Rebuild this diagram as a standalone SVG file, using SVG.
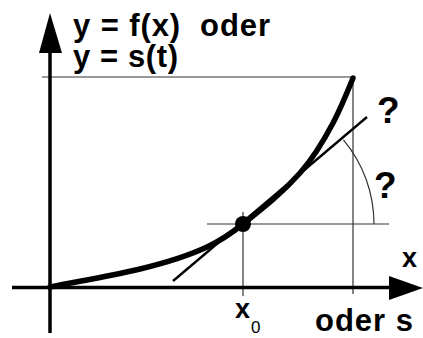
<svg xmlns="http://www.w3.org/2000/svg" width="423" height="338" viewBox="0 0 423 338">
<style>
.axis{stroke:#000;stroke-width:3.5;fill:none}
.thin{stroke:#333;stroke-width:1.2;fill:none}
.lbl{font-family:"Liberation Sans",Arial,sans-serif;font-weight:bold;fill:#000}
</style>
<rect width="423" height="338" fill="#fff"/>
<g id="guides">
<line class="thin" x1="42" y1="77" x2="353" y2="77"/>
<line class="thin" x1="353" y1="77" x2="353" y2="294"/>
<line class="thin" x1="243" y1="212" x2="243" y2="296"/>
<line class="thin" x1="207" y1="224" x2="389" y2="224"/>
<path class="thin" d="M374,224 A131,131 0 0 0 343.4,139.8"/>
</g>
<g id="axes">
<line class="axis" x1="12" y1="287.5" x2="392" y2="287.5"/>
<polygon points="389,276 423,288 389,300" fill="#000"/>
<line class="axis" x1="50" y1="333" x2="50" y2="50"/>
<polygon points="50,13 39,53 62,53" fill="#000"/>
</g>
<g id="connectors">
<line x1="173" y1="281" x2="367" y2="117" stroke="#000" stroke-width="2.3"/>
<path d="M50,287 C80,281 110,276.2 140,269 C162.3,263.6 184.7,257.5 207,247 C219,241.4 231,233.6 243,224 C262,208.8 281,194.3 300,173 C311,160.7 322,143.9 333,123 C339.7,110.3 346.3,94.7 353,78" fill="none" stroke="#000" stroke-width="5.5" stroke-linecap="round"/>
</g>
<g id="point">
<circle cx="243" cy="224" r="8" fill="#000"/>
</g>
<g id="labels">
<text class="lbl" x="73" y="36" font-size="31" xml:space="preserve" textLength="197" lengthAdjust="spacing">y = f(x)  oder</text>
<text class="lbl" x="73" y="67" font-size="31" textLength="105" lengthAdjust="spacing">y = s(t)</text>
<text class="lbl" x="377" y="123" font-size="37">?</text>
<text class="lbl" x="374" y="198" font-size="37">?</text>
<text class="lbl" x="402" y="267" font-size="27">x</text>
<text class="lbl" x="235" y="318" font-size="27">x</text>
<text x="251" y="333" font-size="17" font-family="Liberation Sans,Arial,sans-serif" fill="#000">0</text>
<text class="lbl" x="315" y="331" font-size="31" xml:space="preserve" textLength="98" lengthAdjust="spacing">oder s</text>
</g>
</svg>
